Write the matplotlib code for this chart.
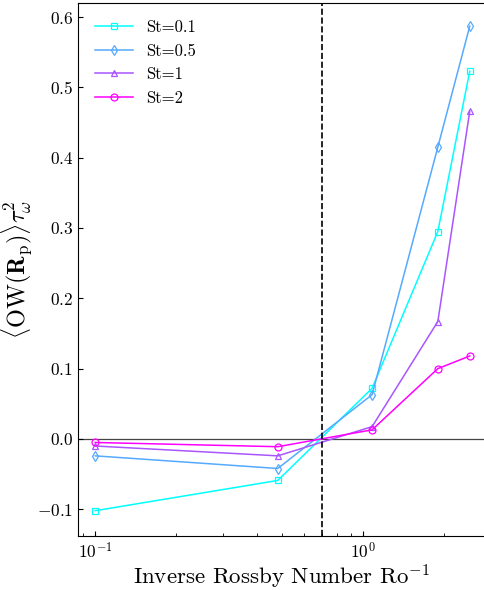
import matplotlib
matplotlib.use("Agg")
import matplotlib.pyplot as plt
import numpy as np

plt.rcParams['font.family'] = 'serif'
plt.rcParams['font.serif'] = ['cmr10']
plt.rcParams['mathtext.fontset'] = 'cm'
plt.rcParams['axes.formatter.use_mathtext'] = True
plt.rcParams['axes.unicode_minus'] = True

inv_ro = [0.1, 0.48, 1.08, 1.9, 2.5]
labels = ['St=0.1', 'St=0.5', 'St=1', 'St=2']
st01 = [-0.102, -0.059, 0.072, 0.295, 0.523]
st05 = [-0.024, -0.042, 0.063, 0.415, 0.587]
st1 = [-0.010, -0.024, 0.0175, 0.167, 0.466]
st2 = [-0.005, -0.011, 0.013, 0.100, 0.118]
series = [st01, st05, st1, st2]
markers = ['s', 'd', '^', 'o']
ro_crit = 0.7

fig = plt.figure(figsize=(4.85, 5.9), dpi=100)
ax = fig.add_axes([0.161, 0.0915, 0.839, 0.9035])
colors = plt.cm.cool(np.linspace(0, 1, 4))
for vals, lab, mk, c in zip(series, labels, markers, colors):
    ax.plot(inv_ro, vals, marker=mk, color=c, label=lab, mfc='none',
            markersize=5, linewidth=1.1, markeredgewidth=0.9)

ax.axhline(0, color='#444444', linewidth=0.9, zorder=0)
ax.axvline(ro_crit, color='black', linestyle='--', linewidth=1.2)
ax.set_xscale('log')
ax.set_xlim(0.0863, 2.85)
ax.set_ylim(-0.138, 0.620)
ax.spines['right'].set_visible(False)
ax.tick_params(direction='in', which='both', labelsize=12.5, top=False, right=False)
ax.set_xlabel(r'Inverse Rossby Number $\mathrm{Ro}^{-1}$', fontsize=16.5, labelpad=1)
ax.set_ylabel(r'$\langle \mathrm{OW}(\mathbf{R}_\mathrm{p})\rangle \tau_\omega^2$', fontsize=17.5, labelpad=2)
ax.legend(loc='upper left', frameon=False, fontsize=12, handlelength=2.3,
          borderaxespad=0.6)
fig.savefig('out.png', dpi=100)
